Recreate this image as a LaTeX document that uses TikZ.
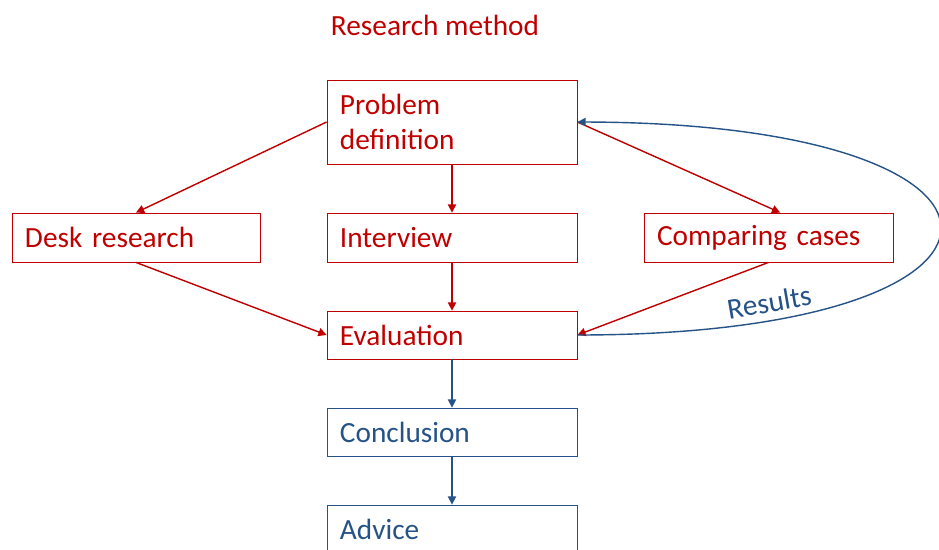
\documentclass[tikz,border=0pt]{standalone}
\usepackage{fontspec}
\setmainfont{Carlito}
\usetikzlibrary{arrows.meta}
\definecolor{mred}{RGB}{192,0,0}
\definecolor{mblue}{RGB}{37,83,135}
\begin{document}
\begin{tikzpicture}[x=0.03cm,y=-0.03cm,
    box/.style={draw,line width=0.7pt,text width=6.72cm,inner xsep=0.39cm,inner ysep=2pt,
      minimum height=1.47cm,align=left,font=\fontsize{25}{30}\selectfont},
    redbox/.style={box,draw=mred,text=mred},
    bluebox/.style={box,draw=mblue,text=mblue},
    flow/.style={line width=1.2pt,-{Triangle[length=7pt,width=7pt]}},
    redflow/.style={flow,draw=mred,fill=mred},
    blueflow/.style={flow,draw=mblue,fill=mblue}]
    \useasboundingbox (0,0) rectangle (939,549);

    % Title
    \node (title) at (435,25) [text=mred,font=\fontsize{25}{30}\selectfont] {Research method};

    % Boxes
    \node (pd) at (452,122) [redbox,minimum height=2.52cm] {Problem\\definition};
    \node (dr) at (136,237.5) [redbox,text width=6.66cm] {Desk research};
    \node (iv) at (452,237.5) [redbox] {Interview};
    \node (cc) at (768.5,237.5) [redbox,text width=6.69cm] {Comparing cases};
    \node (ev) at (452,335) [redbox,minimum height=1.44cm] {Evaluation};
    \node (co) at (452,432) [bluebox,minimum height=1.44cm] {Conclusion};
    \node (ad) at (452,529.5) [bluebox] {Advice};

    % Arrows
    \draw[redflow] (pd.west) -- (dr.north);
    \draw[redflow] (pd) -- (iv);
    \draw[redflow] (pd.east) -- ([xshift=0.35cm]cc.north);
    \draw[redflow] (dr.south) -- (ev.west);
    \draw[redflow] (iv) -- (ev);
    \draw[redflow] (cc.south) -- (ev.east);
    \draw[blueflow] (ev) -- (co);
    \draw[blueflow] (co) -- (ad);

    % Feedback
    \draw[blueflow,fill=none,-{Triangle[length=7pt,width=7pt,fill=mblue]}]
      (ev.east) .. controls (1061,335) and (1061,123) .. (pd.east)
      node[pos=0.16,sloped,above=3pt,text=mblue,font=\fontsize{25}{30}\selectfont] {Results};
\end{tikzpicture}
\end{document}
